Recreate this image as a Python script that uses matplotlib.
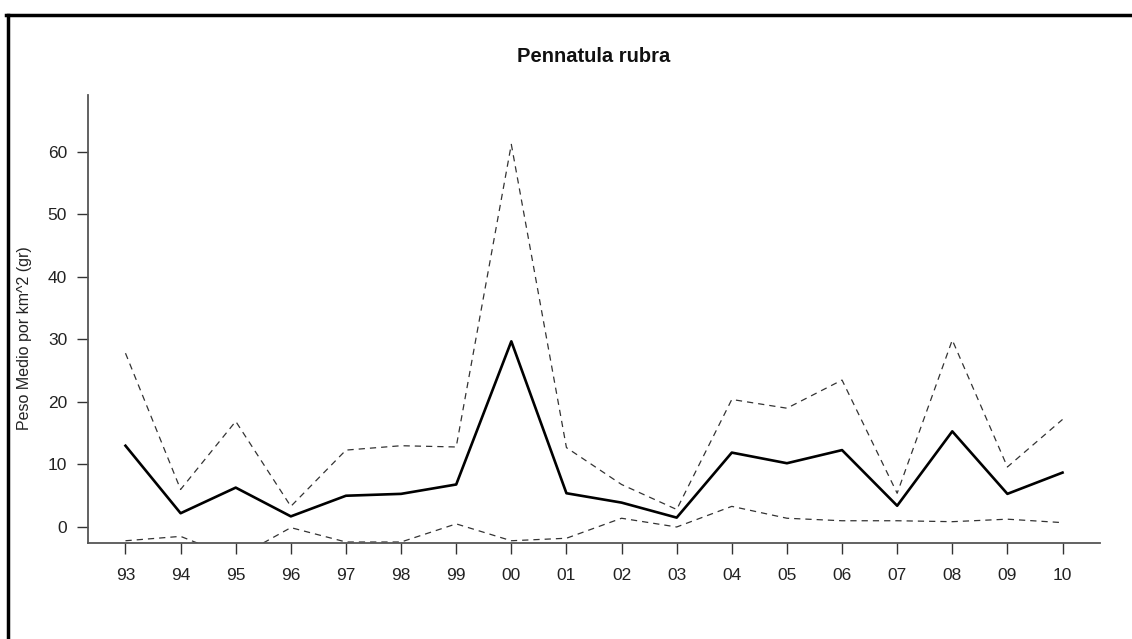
import matplotlib
matplotlib.use("Agg")
import matplotlib.pyplot as plt
from matplotlib.lines import Line2D

years = ["93", "94", "95", "96", "97", "98", "99", "00", "01", "02",
         "03", "04", "05", "06", "07", "08", "09", "10"]
mean_w = [13.0, 2.2, 6.3, 1.7, 5.0, 5.3, 6.8, 29.7, 5.4, 3.9,
          1.5, 11.9, 10.2, 12.3, 3.4, 15.3, 5.3, 8.7]
upper_w = [27.8, 6.0, 16.9, 3.3, 12.3, 13.0, 12.8, 61.2, 12.7, 6.8,
           2.8, 20.4, 19.0, 23.5, 5.4, 29.9, 9.6, 17.2]
lower_w = [-2.2, -1.5, -5.0, -0.1, -2.4, -2.4, 0.5, -2.2, -1.8, 1.4,
           0.0, 3.3, 1.4, 1.0, 1.0, 0.85, 1.25, 0.7]
yticks = [0, 10, 20, 30, 40, 50, 60]

plt.rcParams['font.family'] = ['Liberation Sans', 'DejaVu Sans']

W, H = 1132, 639
fig = plt.figure(figsize=(W / 100, H / 100), dpi=100)
ax = fig.add_axes([88 / W, 1 - 543 / H, (1100 - 88) / W, (543 - 95) / H])

x = list(range(len(years)))
ax.plot(x, upper_w, color='#333333', lw=0.9, ls=(0, (5, 4)))
ax.plot(x, lower_w, color='#333333', lw=0.9, ls=(0, (5, 4)))
ax.plot(x, mean_w, color='black', lw=1.9)

ax.set_xlim(-0.68, 17.68)
ax.set_ylim(-2.56, 69.1)
ax.set_xticks(x)
ax.set_xticklabels(years)
ax.set_yticks(yticks)
ax.tick_params(axis='both', direction='out', length=8, width=1.0,
               color='#333333', labelsize=12.5, labelcolor='#222222')
ax.tick_params(axis='x', pad=10)
ax.tick_params(axis='y', pad=7)
for s in ['top', 'right']:
    ax.spines[s].set_visible(False)
for s in ['left', 'bottom']:
    ax.spines[s].set_color('#555555')
    ax.spines[s].set_linewidth(1.3)

fig.text(25 / W, 1 - 338 / H, 'Peso Medio por km^2 (gr)', rotation=90,
         ha='center', va='center', fontsize=11.5, color='#222222')
fig.text(594 / W, 1 - 57 / H, 'Pennatula rubra', ha='center', va='center',
         fontsize=14.5, fontweight='bold', color='#111111')

# outer frame (left and top edges visible)
fig.add_artist(Line2D([7.5 / W, 7.5 / W], [1 - 14.5 / H, 0], transform=fig.transFigure,
                      color='black', lw=2.5))
fig.add_artist(Line2D([6.3 / W, 1], [1 - 14.5 / H, 1 - 14.5 / H], transform=fig.transFigure,
                      color='black', lw=2.5))

fig.savefig('out.png', dpi=100, facecolor='white')
